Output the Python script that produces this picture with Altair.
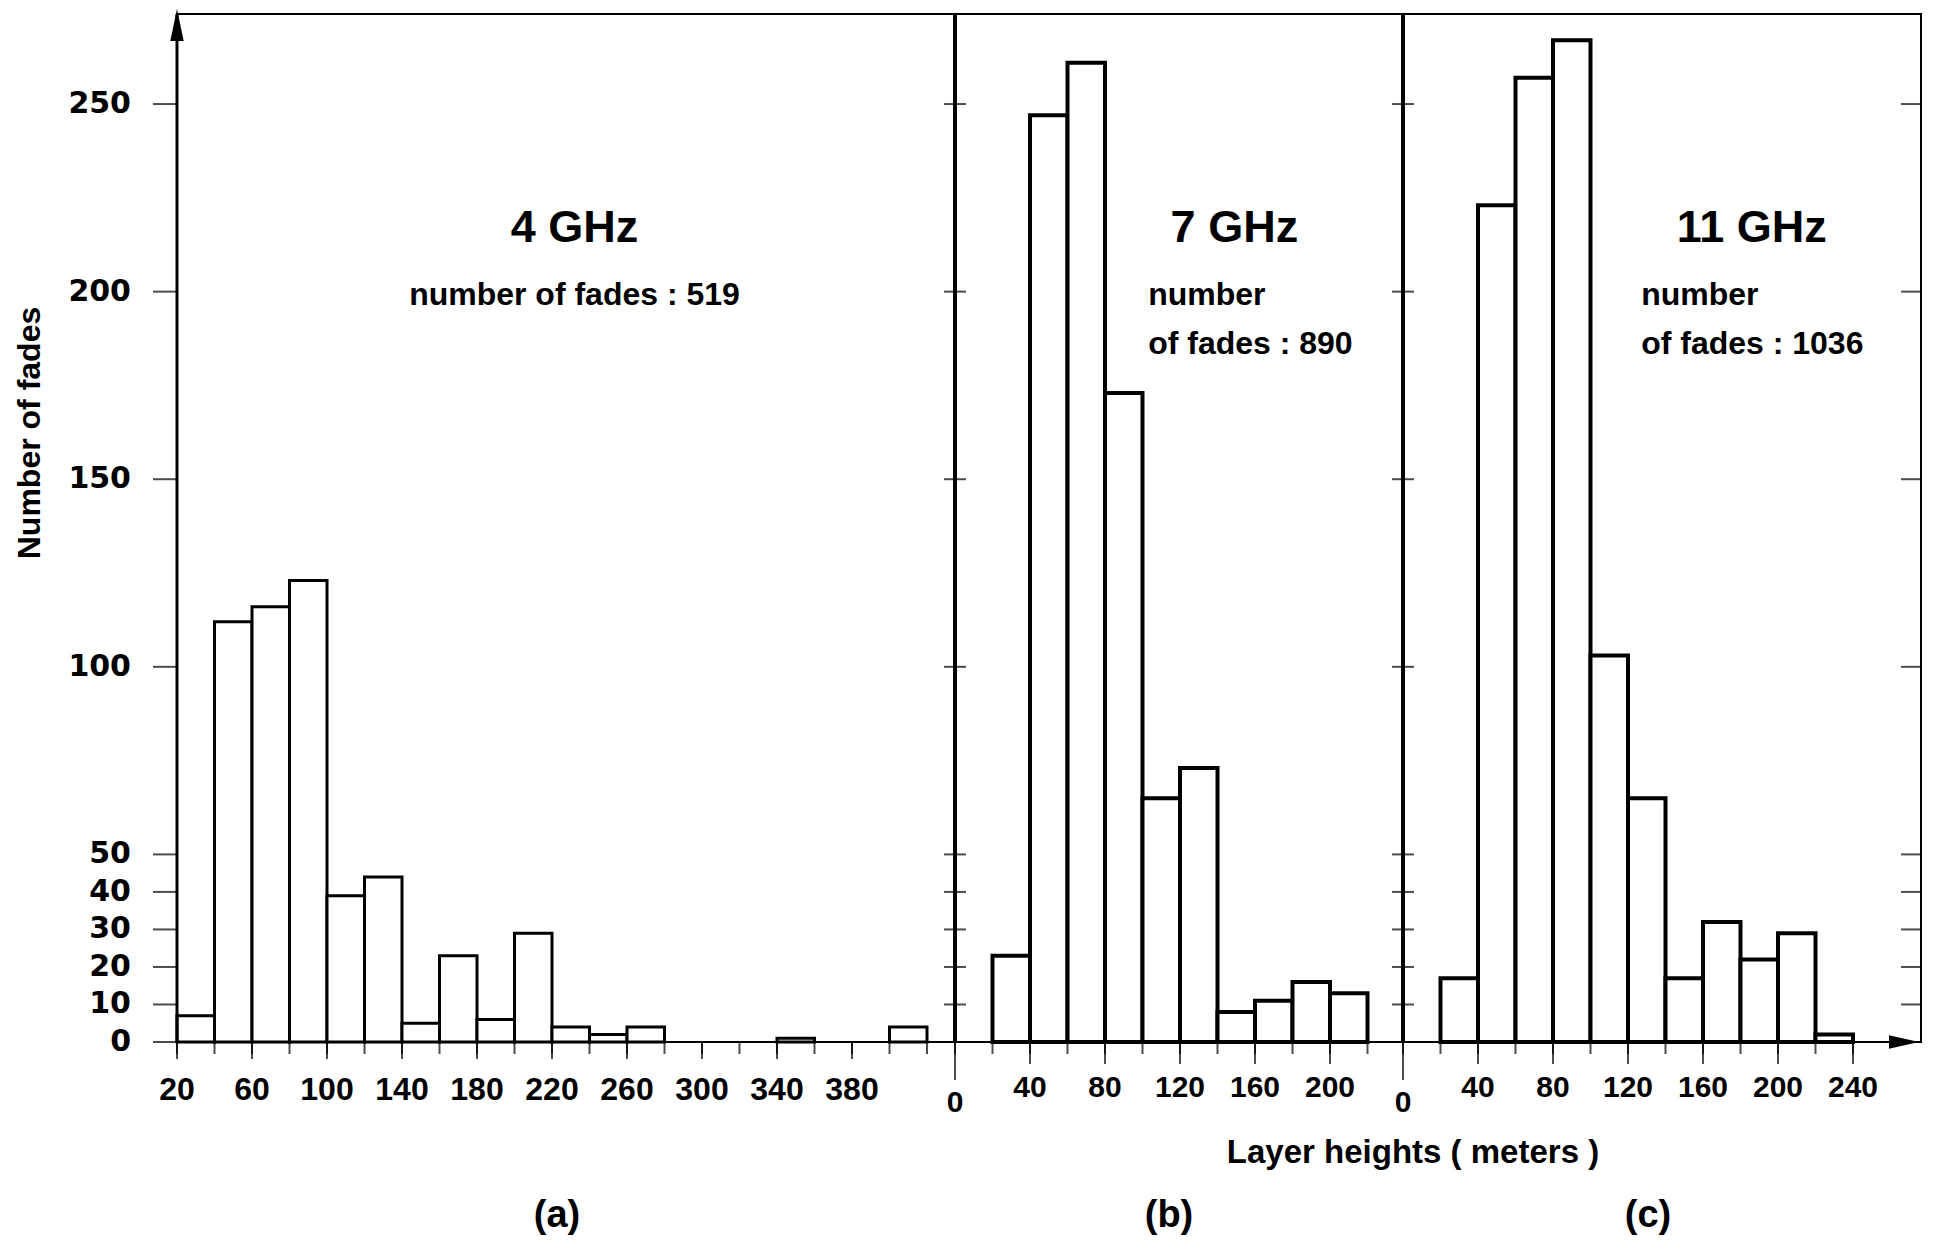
import altair as alt
import pandas as pd

# ---------------- data ----------------
BIN_WIDTH = 20

# (a) 4 GHz
a_bin_start = [20, 40, 60, 80, 100, 120, 140, 160, 180, 200, 220, 240, 260, 340, 400]
a_fades = [7, 112, 116, 123, 39, 44, 5, 23, 6, 29, 4, 2, 4, 1, 4]
# (b) 7 GHz
b_bin_start = [20, 40, 60, 80, 100, 120, 140, 160, 180, 200]
b_fades = [23, 247, 261, 173, 65, 73, 8, 11, 16, 13]
# (c) 11 GHz
c_bin_start = [20, 40, 60, 80, 100, 120, 140, 160, 180, 200, 220]
c_fades = [17, 223, 257, 267, 103, 65, 17, 32, 22, 29, 2]

y_tick_values = [0, 10, 20, 30, 40, 50, 100, 150, 200, 250]
a_x_tick_values = list(range(20, 421, 20))
a_x_labels = [20, 60, 100, 140, 180, 220, 260, 300, 340, 380]
b_x_tick_values = list(range(0, 221, 20))
b_x_labels = [40, 80, 120, 160, 200]
c_x_tick_values = list(range(0, 241, 20))
c_x_labels = [40, 80, 120, 160, 200, 240]
origin_value = [0]

frequency_labels = ["4 GHz", "7 GHz", "11 GHz"]
fade_count_lines = [["number of fades : 519"],
                    ["number", "of fades : 890"],
                    ["number", "of fades : 1036"]]
panel_letters = ["(a)", "(b)", "(c)"]
y_title = "Number of fades"
x_title = "Layer heights ( meters )"

# ---------------- layout / style ----------------
FONT = "Liberation Sans"
H = 1028
Y_MAX = 274
PX_PER_M = 1.875
A_W, B_W, C_W = 778, 448, 518

freq_pos = [(232, 217), (149, 217), (186, 217)]
line_pos = [[(232, 199)], [(103, 199), (103, 186)], [(127, 199), (127, 186)]]
letter_px = [380, 214, 245]
LETTER_DY = 174
XTITLE_PX, XTITLE_DY = 458, 111
XLABEL_DY_A = 48
XLABEL_DY_BC = 46
ZERO_DY = 61
YTITLE_PX, YTITLE_PY = -147, 419

ONE = pd.DataFrame({"k": [0]})
yscale = alt.Scale(domain=[0, Y_MAX], nice=False, zero=False)


def xscale(lo, w):
    return alt.Scale(domain=[lo, lo + w / PX_PER_M], nice=False, zero=False)


def bars(starts, fades, xs, sw):
    df = pd.DataFrame({"start": starts, "fades": fades})
    df["end"] = df["start"] + BIN_WIDTH
    df["base"] = 0
    return alt.Chart(df).mark_rect(
        fill="white", stroke="black", strokeWidth=sw, strokeJoin="miter"
    ).encode(
        x=alt.X("start:Q", scale=xs, axis=None),
        x2="end:Q",
        y=alt.Y("fades:Q", scale=yscale, axis=None),
        y2="base:Q",
    )


def texts(items, labels, xs, size, align):
    df = pd.DataFrame({"x": [p[0] for p in items], "y": [p[1] for p in items], "t": labels})
    return alt.Chart(df).mark_text(
        font=FONT, fontWeight="bold", fontSize=size, align=align,
        baseline="middle", color="black"
    ).encode(
        x=alt.X("x:Q", scale=xs, axis=None),
        y=alt.Y("y:Q", scale=yscale, axis=None),
        text="t:N",
    )


def pixel_text(label, px, py, size, angle=0):
    return alt.Chart(pd.DataFrame({"t": [label]})).mark_text(
        font=FONT, fontWeight="bold", fontSize=size, align="center",
        baseline="middle", color="black", angle=angle
    ).encode(x=alt.value(px), y=alt.value(py), text="t:N")


def x_labels(values, xs, dy, size):
    df = pd.DataFrame({"v": values, "t": [str(v) for v in values]})
    return alt.Chart(df).mark_text(
        font=FONT, fontWeight="bold", fontSize=size, align="center",
        baseline="middle", color="black"
    ).encode(x=alt.X("v:Q", scale=xs, axis=None), y=alt.value(H + dy), text="t:N")


def y_labels(values, px):
    df = pd.DataFrame({"v": values, "t": [str(v) for v in values]})
    return alt.Chart(df).mark_text(
        font="DejaVu Sans", fontWeight="bold", fontSize=30, align="right",
        baseline="middle", color="black"
    ).encode(y=alt.Y("v:Q", scale=yscale, axis=None), x=alt.value(px), text="t:N")


def y_ticks(values, px, size):
    return alt.Chart(pd.DataFrame({"v": values})).mark_tick(
        color="black", thickness=2, size=size
    ).encode(y=alt.Y("v:Q", scale=yscale, axis=None), x=alt.value(px))


def x_ticks(values, xs, length):
    return alt.Chart(pd.DataFrame({"v": values})).mark_tick(
        color="black", thickness=2, size=length
    ).encode(x=alt.X("v:Q", scale=xs, axis=None), y=alt.value(H + length / 2))


def axis_line(width):
    return alt.Chart(ONE).mark_rule(color="black", strokeWidth=width).encode(
        x=alt.value(0), y=alt.value(0), y2=alt.value(H))


def arrow(shape, px, py, size):
    return alt.Chart(ONE).mark_point(
        shape=shape, filled=True, color="black", opacity=1, size=size, strokeWidth=0
    ).encode(x=alt.value(px), y=alt.value(py))


# ---------------- panels ----------------
xs_a = xscale(20, A_W)
xs_b = xscale(0, B_W)
xs_c = xscale(0, C_W)

panel_a = alt.layer(
    bars(a_bin_start, a_fades, xs_a, 3),
    axis_line(3),
    y_ticks(y_tick_values, -12, 24),
    y_labels(y_tick_values, -46),
    pixel_text(y_title, YTITLE_PX, YTITLE_PY, 32, angle=270),
    x_ticks(a_x_tick_values, xs_a, 12),
    x_ticks(a_x_labels, xs_a, 17),
    x_labels(a_x_labels, xs_a, XLABEL_DY_A, 32),
    texts([freq_pos[0]], [frequency_labels[0]], xs_a, 45, "center"),
    texts(line_pos[0], fade_count_lines[0], xs_a, 32, "center"),
    arrow("M0,-1L0.42,1L-0.42,1Z", 0, 11, 1024),
    pixel_text(panel_letters[0], letter_px[0], H + LETTER_DY, 38),
).properties(width=A_W, height=H)

panel_b = alt.layer(
    bars(b_bin_start, b_fades, xs_b, 4),
    axis_line(4),
    y_ticks(y_tick_values, 0, 22),
    x_ticks(b_x_tick_values, xs_b, 12),
    x_ticks(b_x_labels, xs_b, 22),
    x_ticks(origin_value, xs_b, 38),
    x_labels(b_x_labels, xs_b, XLABEL_DY_BC, 30),
    x_labels(origin_value, xs_b, ZERO_DY, 30),
    texts([freq_pos[1]], [frequency_labels[1]], xs_b, 45, "center"),
    texts(line_pos[1], fade_count_lines[1], xs_b, 32, "left"),
    pixel_text(panel_letters[1], letter_px[1], H + LETTER_DY, 38),
    pixel_text(x_title, XTITLE_PX, H + XTITLE_DY, 33),
).properties(width=B_W, height=H)

panel_c = alt.layer(
    bars(c_bin_start, c_fades, xs_c, 4),
    axis_line(4),
    y_ticks(y_tick_values, 0, 22),
    y_ticks(y_tick_values[1:], C_W - 10, 20),
    x_ticks(c_x_tick_values, xs_c, 12),
    x_ticks(c_x_labels, xs_c, 22),
    x_ticks(origin_value, xs_c, 38),
    x_labels(c_x_labels, xs_c, XLABEL_DY_BC, 30),
    x_labels(origin_value, xs_c, ZERO_DY, 30),
    texts([freq_pos[2]], [frequency_labels[2]], xs_c, 45, "center"),
    texts(line_pos[2], fade_count_lines[2], xs_c, 32, "left"),
    arrow("M1,0L-1,0.45L-1,-0.45Z", C_W - 17, H, 900),
    pixel_text(panel_letters[2], letter_px[2], H + LETTER_DY, 38),
).properties(width=C_W, height=H)

chart = alt.hconcat(panel_a, panel_b, panel_c, spacing=0, bounds="flush").properties(
    padding={"left": 5, "top": 0, "right": 2, "bottom": 0}, background="white"
).configure_view(
    stroke="black", strokeWidth=2
)

chart.save("out.html", embed_options={"renderer": "svg", "actions": False})
